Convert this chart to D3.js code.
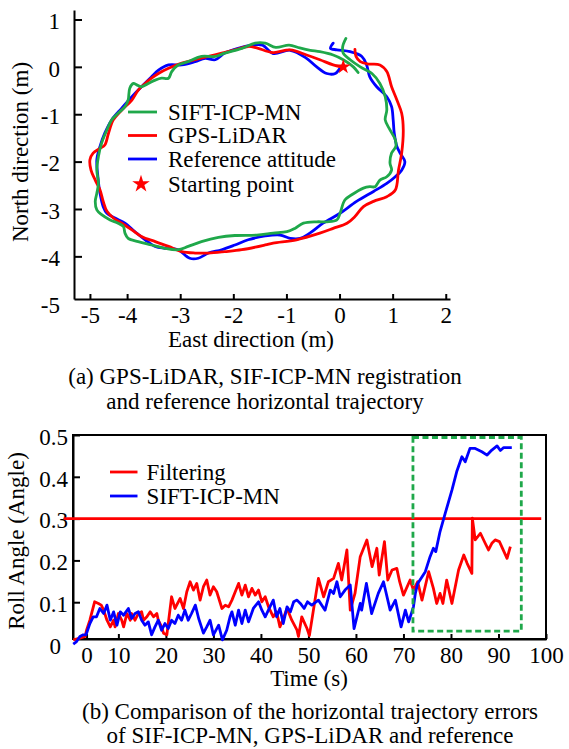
<!DOCTYPE html>
<html>
<head>
<meta charset="utf-8">
<script src="https://cdn.jsdelivr.net/npm/d3@7"></script>
<style>
  body { margin: 0; background: #fff; }
  svg text { font-family: "Liberation Serif", "Times New Roman", serif; fill: #000; }
</style>
</head>
<body>
<svg id="fig" width="569" height="749"></svg>
<script>
// (a) horizontal trajectories, [east, north] in metres
const referenceTraj = [[-0.12,0.50],[-0.17,0.39],[-0.05,0.36],[0.20,0.32],[0.42,0.22],[0.51,0.04],[0.57,-0.21],[0.70,-0.42],[0.89,-0.63],[0.98,-0.84],[1.01,-1.12],[1.03,-1.40],[1.08,-1.68],[1.14,-1.82],[1.23,-2.00],[1.17,-2.18],[1.05,-2.32],[0.89,-2.46],[0.64,-2.63],[0.32,-2.84],[0.01,-3.09],[-0.31,-3.30],[-0.56,-3.51],[-0.74,-3.62],[-0.93,-3.62],[-1.12,-3.55],[-1.40,-3.57],[-1.72,-3.65],[-1.97,-3.76],[-2.22,-3.86],[-2.47,-3.93],[-2.66,-4.04],[-2.82,-4.04],[-3.04,-3.86],[-3.29,-3.83],[-3.47,-3.79],[-3.66,-3.65],[-3.85,-3.48],[-4.04,-3.30],[-4.23,-3.19],[-4.38,-3.09],[-4.45,-2.95],[-4.51,-2.67],[-4.55,-2.32],[-4.57,-1.96],[-4.51,-1.68],[-4.42,-1.40],[-4.29,-1.12],[-4.10,-0.87],[-3.91,-0.63],[-3.73,-0.42],[-3.54,-0.21],[-3.41,-0.07],[-3.22,0.04],[-2.97,0.04],[-2.72,0.11],[-2.53,0.18],[-2.34,0.15],[-2.16,0.29],[-1.91,0.39],[-1.65,0.46],[-1.45,0.46],[-1.25,0.28],[-0.93,0.35],[-0.62,0.18],[-0.43,0.0],[-0.24,-0.14],[-0.08,-0.14],[0.01,-0.03],[0.07,0.04]];
const gpsLidarTraj = [[0.29,0.37],[0.31,0.22],[0.39,0.11],[0.54,0.06],[0.76,0.04],[0.89,-0.10],[0.98,-0.42],[1.08,-0.70],[1.17,-0.98],[1.20,-1.33],[1.17,-1.82],[1.11,-2.18],[1.05,-2.60],[0.89,-2.74],[0.64,-2.84],[0.45,-2.95],[0.29,-3.16],[0.14,-3.30],[-0.12,-3.41],[-0.37,-3.51],[-0.81,-3.65],[-1.25,-3.72],[-1.40,-3.76],[-1.84,-3.86],[-2.16,-3.90],[-2.47,-3.93],[-2.72,-3.93],[-2.97,-3.90],[-3.22,-3.79],[-3.47,-3.69],[-3.73,-3.58],[-3.91,-3.44],[-4.10,-3.30],[-4.26,-3.19],[-4.38,-3.05],[-4.45,-2.84],[-4.51,-2.60],[-4.60,-2.39],[-4.68,-2.18],[-4.70,-1.96],[-4.64,-1.82],[-4.51,-1.72],[-4.42,-1.65],[-4.35,-1.40],[-4.26,-1.12],[-4.10,-0.91],[-3.91,-0.70],[-3.79,-0.49],[-3.66,-0.35],[-3.54,-0.24],[-3.41,-0.14],[-3.22,-0.03],[-2.97,0.08],[-2.72,0.15],[-2.47,0.22],[-2.22,0.29],[-1.97,0.36],[-1.72,0.43],[-1.56,0.40],[-1.25,0.30],[-0.93,0.36],[-0.62,0.25],[-0.37,0.15],[-0.12,0.04],[0.07,-0.01]];
const siftIcpTraj = [[0.12,0.60],[0.06,0.43],[0.07,0.29],[0.20,0.15],[0.39,0.0],[0.61,-0.14],[0.76,-0.35],[0.86,-0.63],[0.89,-0.91],[0.86,-1.12],[0.95,-1.33],[1.05,-1.54],[1.06,-1.68],[0.98,-1.82],[0.95,-2.03],[0.98,-2.18],[0.89,-2.32],[0.76,-2.39],[0.67,-2.53],[0.57,-2.53],[0.45,-2.56],[0.23,-2.70],[0.10,-2.81],[0.01,-3.09],[-0.05,-3.23],[-0.24,-3.27],[-0.43,-3.27],[-0.68,-3.30],[-0.84,-3.41],[-0.99,-3.48],[-1.25,-3.51],[-1.56,-3.55],[-1.97,-3.56],[-2.28,-3.60],[-2.60,-3.69],[-2.85,-3.79],[-3.04,-3.86],[-3.29,-3.83],[-3.54,-3.76],[-3.79,-3.69],[-3.98,-3.62],[-4.04,-3.51],[-4.07,-3.37],[-4.17,-3.30],[-4.32,-3.23],[-4.48,-3.12],[-4.57,-3.02],[-4.60,-2.84],[-4.57,-2.67],[-4.54,-2.46],[-4.57,-2.18],[-4.54,-1.89],[-4.48,-1.61],[-4.38,-1.33],[-4.29,-1.12],[-4.17,-0.98],[-4.04,-0.84],[-3.98,-0.70],[-3.95,-0.45],[-3.88,-0.35],[-3.82,-0.38],[-3.73,-0.42],[-3.60,-0.35],[-3.47,-0.28],[-3.35,-0.24],[-3.22,-0.24],[-3.16,-0.10],[-3.04,0.04],[-2.85,0.11],[-2.60,0.22],[-2.34,0.22],[-2.16,0.29],[-1.84,0.39],[-1.59,0.50],[-1.40,0.50],[-1.20,0.41],[-0.95,0.46],[-0.75,0.40],[-0.55,0.35],[-0.37,0.32],[-0.12,0.25],[0.07,0.15],[0.26,0.0],[0.35,-0.12]];
const startPoint = [0.07, 0.0];

const eastTicks = [-4.7, -4, -3, -2, -1, 0, 1, 2];
const eastTickLabels = ['-5', '-4', '-3', '-2', '-1', '0', '1', '2'];
const northTicks = [1, 0, -1, -2, -3, -4, -5];
const northTickLabels = ['1', '0', '-1', '-2', '-3', '-4', '-5'];
const legendA = ['SIFT-ICP-MN', 'GPS-LiDAR', 'Reference attitude', 'Starting point'];

// (b) roll angle error, [time s, angle]
const filteringRoll = [[0.5,0.010],[1.9,0.014],[3.0,0.018],[3.3,0.033],[4.0,0.057],[5.0,0.101],[5.8,0.097],[6.4,0.093],[6.9,0.081],[7.6,0.057],[8.3,0.041],[9.0,0.057],[9.3,0.041],[10.0,0.073],[10.7,0.057],[11.1,0.041],[11.8,0.073],[12.5,0.057],[12.8,0.073],[13.5,0.057],[14.2,0.073],[14.9,0.077],[15.3,0.057],[16.0,0.065],[16.7,0.077],[17.4,0.065],[18.1,0.073],[18.4,0.057],[19.1,0.041],[19.5,0.026],[20.2,0.022],[21.2,0.113],[21.9,0.085],[23.0,0.109],[23.7,0.085],[24.4,0.125],[25.1,0.149],[25.8,0.129],[26.5,0.145],[27.2,0.105],[27.9,0.137],[28.6,0.153],[29.3,0.117],[30.0,0.137],[30.7,0.125],[31.8,0.085],[32.5,0.093],[33.2,0.089],[33.9,0.105],[34.6,0.125],[35.3,0.145],[36.0,0.117],[36.7,0.141],[37.4,0.113],[38.1,0.133],[38.8,0.117],[39.5,0.129],[40.2,0.101],[40.9,0.113],[41.6,0.089],[42.6,0.065],[43.3,0.077],[44.0,0.041],[44.7,0.061],[45.5,0.085],[46.5,0.057],[47.6,0.033],[47.9,0.018],[48.6,0.065],[49.7,0.037],[50.2,0.020],[51.1,0.085],[52.1,0.157],[53.2,0.113],[54.2,0.149],[55.3,0.157],[56.3,0.193],[57.0,0.153],[58.1,0.225],[58.8,0.081],[59.8,0.121],[60.9,0.209],[62.3,0.249],[63.4,0.185],[64.4,0.229],[64.9,0.165],[66.0,0.245],[66.7,0.153],[67.6,0.177],[68.6,0.181],[69.2,0.149],[70.0,0.117],[71.4,0.153],[72.1,0.129],[73.0,0.149],[73.9,0.105],[75.3,0.173],[76.3,0.133],[77.0,0.097],[77.7,0.121],[78.3,0.097],[79.1,0.153],[80.2,0.097],[81.6,0.177],[82.7,0.213],[83.4,0.193],[84.4,0.169],[84.5,0.301],[85.1,0.249],[86.2,0.265],[87.2,0.241],[87.9,0.225],[88.6,0.241],[89.3,0.249],[90.2,0.245],[91.8,0.205],[92.5,0.233]];
const siftIcpRoll = [[0.5,0.0],[1.2,0.006],[1.9,0.018],[2.6,0.022],[3.2,0.022],[4.0,0.049],[4.7,0.065],[5.4,0.065],[6.1,0.085],[6.9,0.073],[7.6,0.093],[8.3,0.057],[9.0,0.077],[9.7,0.045],[10.4,0.077],[11.1,0.069],[12.1,0.085],[12.8,0.061],[13.5,0.073],[14.2,0.077],[14.9,0.057],[15.6,0.045],[16.3,0.053],[17.0,0.022],[17.7,0.041],[18.4,0.057],[19.1,0.033],[19.8,0.049],[20.5,0.037],[21.2,0.057],[21.9,0.049],[22.6,0.069],[23.3,0.057],[24.0,0.081],[24.7,0.057],[25.4,0.073],[26.2,0.093],[26.9,0.061],[27.9,0.026],[28.6,0.041],[29.3,0.057],[30.0,0.022],[31.1,0.045],[31.9,0.010],[32.8,0.033],[33.5,0.065],[33.9,0.077],[34.6,0.045],[35.3,0.081],[36.0,0.049],[36.7,0.081],[37.4,0.053],[38.4,0.085],[39.5,0.101],[40.2,0.081],[40.9,0.065],[41.9,0.089],[42.6,0.105],[43.3,0.065],[44.0,0.085],[44.7,0.049],[45.5,0.089],[46.2,0.077],[46.9,0.101],[47.6,0.105],[48.3,0.097],[49.1,0.085],[49.8,0.101],[50.7,0.093],[52.1,0.105],[53.5,0.081],[54.6,0.129],[55.3,0.121],[56.0,0.149],[56.7,0.113],[57.7,0.129],[58.8,0.141],[59.6,0.037],[60.9,0.097],[61.2,0.081],[62.2,0.145],[63.3,0.073],[64.7,0.121],[65.8,0.149],[67.2,0.081],[68.3,0.105],[69.5,0.041],[70.4,0.081],[71.1,0.053],[72.1,0.089],[72.5,0.121],[73.0,0.145],[74.6,0.173],[75.6,0.209],[76.3,0.229],[76.8,0.221],[77.7,0.269],[78.8,0.313],[80.2,0.368],[81.2,0.412],[82.3,0.448],[83.0,0.436],[84.0,0.468],[85.1,0.468],[86.5,0.460],[87.6,0.452],[88.6,0.464],[89.7,0.474],[90.4,0.463],[91.1,0.470],[92.8,0.470]];
const thresholdLine = [[-1.5, 0.3], [99, 0.3]];
const boxTime = [72, 94.8];
const boxRoll = [0.031, 0.494];

const timeTicks = [3.3, 10, 20, 30, 40, 50, 60, 70, 80, 90, 100];
const timeTickLabels = ['0', '10', '20', '30', '40', '50', '60', '70', '80', '90', '100'];
const rollTicks = [0, 0.1, 0.2, 0.3, 0.4, 0.5];
const rollTickLabels = ['0', '0.1', '0.2', '0.3', '0.4', '0.5'];
const legendB = ['Filtering', 'SIFT-ICP-MN'];

const RED = '#ff0000', BLUE = '#0000ff', GREEN = '#1fa84a';
const FONT = 23;

const svg = d3.select('#fig');

function styleAxis(g) {
  g.attr('font-family', null).attr('font-size', FONT);
  g.select('.domain').attr('stroke', '#000').attr('stroke-width', 2);
  g.selectAll('.tick line').attr('stroke', '#000').attr('stroke-width', 2);
  g.selectAll('.tick text').attr('fill', '#000');
}

// ---------- (a) ----------
let xa = d3.scaleLinear().domain([-5.0, 2.08]).range([74, 450]);
let ya = d3.scaleLinear().domain([-4.9, 1.2]).range([299, 10]);

svg.append('g').attr('transform', 'translate(0,299)')
  .call(d3.axisBottom(xa).tickValues(eastTicks).tickFormat((d, i) => eastTickLabels[i])
    .tickSize(-5).tickSizeOuter(0).tickPadding(8))
  .call(styleAxis);

let gya = svg.append('g').attr('transform', 'translate(74,0)')
  .call(d3.axisLeft(ya).tickValues(northTicks).tickFormat((d, i) => northTickLabels[i])
    .tickSize(-8).tickSizeOuter(0).tickPadding(14))
  .call(styleAxis);
gya.selectAll('.tick').filter(d => d === -5).select('line').remove();
gya.selectAll('.tick text').attr('dy', '0.4em');

let trajLine = d3.line().x(d => xa(d[0])).y(d => ya(d[1])).curve(d3.curveCatmullRom.alpha(0.5));
const trajSeries = [[referenceTraj, BLUE], [gpsLidarTraj, RED], [siftIcpTraj, GREEN]];
svg.append('g').selectAll('path').data(trajSeries).join('path')
  .attr('d', d => trajLine(d[0]))
  .attr('fill', 'none').attr('stroke', d => d[1]).attr('stroke-width', 2.8)
  .attr('stroke-linejoin', 'round').attr('stroke-linecap', 'round');

svg.append('path')
  .attr('d', d3.symbol(d3.symbolStar, 70)())
  .attr('transform', 'translate(' + xa(startPoint[0]) + ',' + ya(startPoint[1]) + ')')
  .attr('fill', RED);

// legend (a)
const legendARows = [112, 135.5, 159, 184];
const legendAColors = [GREEN, RED, BLUE, RED];
let la = svg.append('g');
legendA.forEach(function (name, i) {
  let y = legendARows[i];
  if (i < 3) {
    la.append('line').attr('x1', 128).attr('x2', 157).attr('y1', y).attr('y2', y)
      .attr('stroke', legendAColors[i]).attr('stroke-width', 2.8);
  } else {
    la.append('path').attr('d', d3.symbol(d3.symbolStar, 95)())
      .attr('transform', 'translate(141,' + y + ')').attr('fill', legendAColors[i]);
  }
  la.append('text').attr('x', 168).attr('y', y).attr('dy', '0.33em')
    .attr('font-size', FONT).text(name);
});

svg.append('text').attr('transform', 'translate(28,152) rotate(-90)')
  .attr('text-anchor', 'middle').attr('font-size', FONT).text('North direction (m)');
svg.append('text').attr('x', 251).attr('y', 347)
  .attr('text-anchor', 'middle').attr('font-size', FONT).text('East direction (m)');
svg.append('text').attr('x', 265).attr('y', 384)
  .attr('text-anchor', 'middle').attr('font-size', FONT).text('(a) GPS-LiDAR, SIF-ICP-MN registration');
svg.append('text').attr('x', 265).attr('y', 409)
  .attr('text-anchor', 'middle').attr('font-size', FONT).text('and reference horizontal trajectory');

// ---------- (b) ----------
let xb = d3.scaleLinear().domain([0.45, 100]).range([73, 546]);
let yb = d3.scaleLinear().domain([0.012, 0.5]).range([639, 435]);

svg.append('rect').attr('x', 73).attr('y', 435).attr('width', 473).attr('height', 204)
  .attr('fill', 'none').attr('stroke', '#000').attr('stroke-width', 2);

svg.append('g').attr('transform', 'translate(0,639)')
  .call(d3.axisBottom(xb).tickValues(timeTicks).tickFormat((d, i) => timeTickLabels[i])
    .tickSize(-5).tickSizeOuter(0).tickPadding(8))
  .call(styleAxis);

let gyb = svg.append('g').attr('transform', 'translate(73,0)')
  .call(d3.axisLeft(yb).tickValues(rollTicks).tickFormat((d, i) => rollTickLabels[i])
    .tickSize(-7).tickSizeOuter(0).tickPadding(5))
  .call(styleAxis);
gyb.selectAll('.tick text').attr('dy', '0.4em');
gyb.selectAll('.tick').filter(d => d === 0).select('line').remove();
gyb.selectAll('.tick').filter(d => d === 0).select('text').attr('x', -12);

let rollLine = d3.line().x(d => xb(d[0])).y(d => yb(d[1]));

svg.append('path').attr('d', rollLine(thresholdLine))
  .attr('fill', 'none').attr('stroke', RED).attr('stroke-width', 2.8);

const rollSeries = [[filteringRoll, RED], [siftIcpRoll, BLUE]];
svg.append('g').selectAll('path').data(rollSeries).join('path')
  .attr('d', d => rollLine(d[0]))
  .attr('fill', 'none').attr('stroke', d => d[1]).attr('stroke-width', 2.8)
  .attr('stroke-linejoin', 'round');

svg.append('rect')
  .attr('x', xb(boxTime[0])).attr('y', yb(boxRoll[1]))
  .attr('width', xb(boxTime[1]) - xb(boxTime[0])).attr('height', yb(boxRoll[0]) - yb(boxRoll[1]))
  .attr('fill', 'none').attr('stroke', GREEN).attr('stroke-width', 2.8)
  .attr('stroke-dasharray', '6,3.5');

// legend (b)
const legendBRows = [472, 496];
const legendBColors = [RED, BLUE];
let lb = svg.append('g');
legendB.forEach(function (name, i) {
  let y = legendBRows[i];
  lb.append('line').attr('x1', 110).attr('x2', 137.5).attr('y1', y).attr('y2', y)
    .attr('stroke', legendBColors[i]).attr('stroke-width', 2.8);
  lb.append('text').attr('x', 146.5).attr('y', y).attr('dy', '0.33em')
    .attr('font-size', FONT).text(name);
});

svg.append('text').attr('transform', 'translate(24,541) rotate(-90)')
  .attr('text-anchor', 'middle').attr('font-size', FONT).text('Roll Angle (Angle)');
svg.append('text').attr('x', 309).attr('y', 686)
  .attr('text-anchor', 'middle').attr('font-size', FONT).text('Time (s)');
svg.append('text').attr('x', 310).attr('y', 719)
  .attr('text-anchor', 'middle').attr('font-size', FONT).text('(b) Comparison of the horizontal trajectory errors');
svg.append('text').attr('x', 310).attr('y', 743)
  .attr('text-anchor', 'middle').attr('font-size', FONT).text('of SIF-ICP-MN, GPS-LiDAR and reference');
</script>
</body>
</html>
